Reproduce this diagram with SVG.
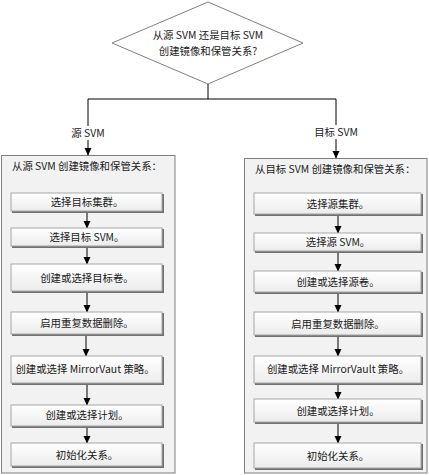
<svg xmlns="http://www.w3.org/2000/svg" width="429" height="475" viewBox="0 0 429 475">
<defs>
<linearGradient id="g" x1="0" y1="0" x2="0" y2="1"><stop offset="0" stop-color="#ffffff"/><stop offset="1" stop-color="#ececec"/></linearGradient>
<marker id="ah" markerWidth="8" markerHeight="8" refX="7" refY="4" orient="auto" markerUnits="userSpaceOnUse"><path d="M0,0.5 L7.5,4 L0,7.5 z" fill="#000"/></marker>
</defs>
<style>
text{font-family:"Microsoft YaHei","Noto Sans CJK SC","Noto Sans",sans-serif;font-size:10.4px;fill:#1a1a1a}
.c{text-anchor:middle}
.outer{fill:#f2f2f2;stroke:#7f7f7f;stroke-width:1}
.sh{fill:#707070}
.bx{fill:url(#g);stroke:#a6a6a6;stroke-width:1}
.ln{stroke:#000;stroke-width:1;fill:none}
.ar{stroke:#000;stroke-width:1;fill:none;marker-end:url(#ah)}
</style>
<g id="decision">
<polygon points="208,2 303,43 208,84 112,43" fill="#ffffff" stroke="#7f7f7f" stroke-width="1"/>
<text class="c" x="208" y="39">从源 SVM 还是目标 SVM</text>
<text class="c" x="208" y="55">创建镜像和保管关系?</text>
</g>
<g id="left-group">
<rect class="outer" x="1.5" y="155.5" width="173.5" height="317.5"/>
<text x="12" y="170">从源 SVM 创建镜像和保管关系：</text>
</g>
<g id="right-group">
<rect class="outer" x="244.5" y="158.5" width="182.5" height="314.5"/>
<text x="255" y="173">从目标 SVM 创建镜像和保管关系：</text>
</g>
<g id="connectors">
<path class="ln" d="M208,84 V99 M88,99 H336"/>
<path class="ar" d="M88,99 V155"/>
<path class="ar" d="M336,99 V158"/>
<path class="ar" d="M87,212 V228"/>
<path class="ar" d="M87,247 V264"/>
<path class="ar" d="M87,292 V312"/>
<path class="ar" d="M86,335 V356"/>
<path class="ar" d="M87,384 V405"/>
<path class="ar" d="M87,427 V443"/>
<path class="ar" d="M338,215 V233"/>
<path class="ar" d="M338,252 V271"/>
<path class="ar" d="M338,293 V312"/>
<path class="ar" d="M338,336 V356"/>
<path class="ar" d="M338,384 V399"/>
<path class="ar" d="M338,423 V443"/>
<rect x="70" y="126" width="38" height="14" fill="#ffffff"/>
<text class="c" x="88" y="137">源 SVM</text>
<rect x="313" y="125" width="46" height="14" fill="#ffffff"/>
<text class="c" x="336" y="136">目标 SVM</text>
</g>
<g id="L1"><rect class="sh" x="12" y="194" width="152" height="19"/><rect class="bx" x="11" y="193" width="151" height="18"/><text class="c" x="87" y="206">选择目标集群。</text></g>
<g id="L2"><rect class="sh" x="12" y="229" width="152" height="19"/><rect class="bx" x="11" y="228" width="151" height="18"/><text class="c" x="87" y="241">选择目标 SVM。</text></g>
<g id="L3"><rect class="sh" x="12" y="265" width="152" height="28"/><rect class="bx" x="11" y="264" width="151" height="27"/><text class="c" x="87" y="282">创建或选择目标卷。</text></g>
<g id="L4"><rect class="sh" x="12" y="313" width="152" height="23"/><rect class="bx" x="11" y="312" width="151" height="22"/><text class="c" x="87" y="327">启用重复数据删除。</text></g>
<g id="L5"><rect class="sh" x="12" y="357" width="152" height="28"/><rect class="bx" x="11" y="356" width="151" height="27"/><text class="c" x="85" y="373">创建或选择 MirrorVaut 策略。</text></g>
<g id="L6"><rect class="sh" x="12" y="406" width="152" height="22"/><rect class="bx" x="11" y="405" width="151" height="21"/><text class="c" x="87" y="419">创建或选择计划。</text></g>
<g id="L7"><rect class="sh" x="12" y="444" width="152" height="24"/><rect class="bx" x="11" y="443" width="151" height="23"/><text class="c" x="87" y="459">初始化关系。</text></g>
<g id="R1"><rect class="sh" x="255" y="194" width="168" height="22"/><rect class="bx" x="254" y="193" width="167" height="21"/><text class="c" x="338" y="208">选择源集群。</text></g>
<g id="R2"><rect class="sh" x="255" y="234" width="168" height="19"/><rect class="bx" x="254" y="233" width="167" height="18"/><text class="c" x="338" y="246">选择源 SVM。</text></g>
<g id="R3"><rect class="sh" x="255" y="272" width="168" height="22"/><rect class="bx" x="254" y="271" width="167" height="21"/><text class="c" x="338" y="286">创建或选择源卷。</text></g>
<g id="R4"><rect class="sh" x="255" y="313" width="168" height="24"/><rect class="bx" x="254" y="312" width="167" height="23"/><text class="c" x="338" y="328">启用重复数据删除。</text></g>
<g id="R5"><rect class="sh" x="255" y="357" width="168" height="28"/><rect class="bx" x="254" y="356" width="167" height="27"/><text class="c" x="338" y="373">创建或选择 MirrorVault 策略。</text></g>
<g id="R6"><rect class="sh" x="255" y="400" width="168" height="24"/><rect class="bx" x="254" y="399" width="167" height="23"/><text class="c" x="338" y="415">创建或选择计划。</text></g>
<g id="R7"><rect class="sh" x="255" y="444" width="168" height="26"/><rect class="bx" x="254" y="443" width="167" height="25"/><text class="c" x="338" y="460">初始化关系。</text></g>
</svg>
